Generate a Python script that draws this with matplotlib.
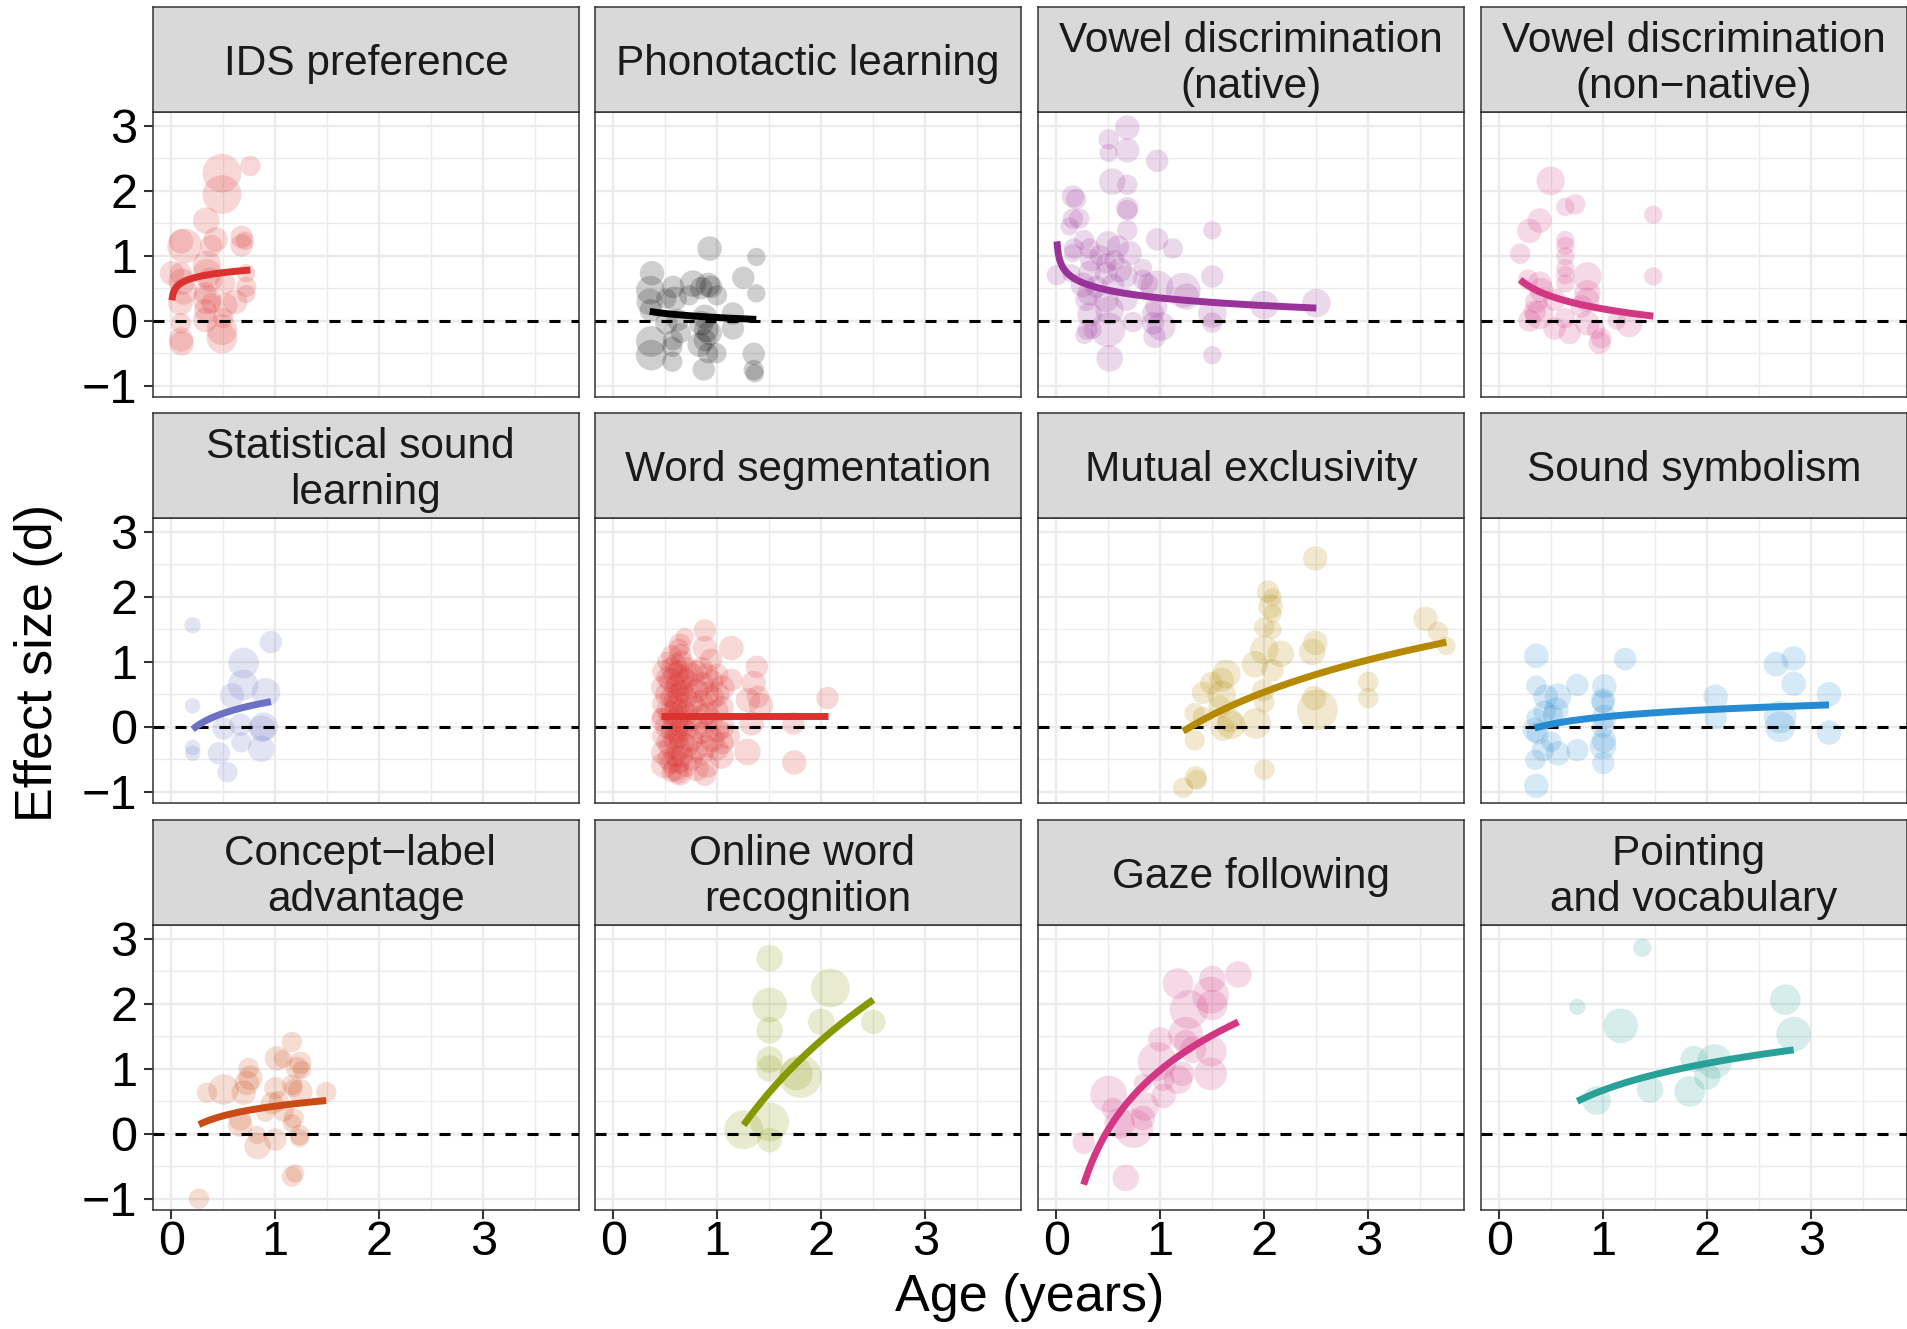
import numpy as np
import matplotlib.pyplot as plt

plt.rcParams['font.family'] = ['Liberation Sans', 'DejaVu Sans']

# panel titles, colours and log fits (d = a + b * log(age))
titles = ["IDS preference", "Phonotactic learning", "Vowel discrimination\n(native)",
          "Vowel discrimination\n(non\u2212native)", "Statistical sound \nlearning",
          "Word segmentation", "Mutual exclusivity", "Sound symbolism",
          "Concept\u2212label \nadvantage", "Online word \nrecognition", "Gaze following",
          "Pointing \nand vocabulary"]
colors = ["#dc322f", "#000000", "#993399", "#d33682", "#6c71c4", "#dc322f",
          "#b58900", "#268bd2", "#cb4b16", "#859900", "#d33682", "#2aa198"]
fit_a = [0.806, 0.0485, 0.35, 0.18, 0.397, 0.17, -0.313, 0.15, 0.424, -0.496, 0.98, 0.67]
fit_b = [0.0963, -0.0897, -0.17, -0.28, 0.276, 0.0, 1.22, 0.16, 0.215, 2.79, 1.32, 0.595]

# (age in years, effect size d, weight)
ids = [(0.487, 2.27, 95), (0.487, 1.94, 95), (0.76, 2.38, 50), (0.337, 1.54, 65), (0.426, 1.25, 60),
       (0.385, 1.15, 55), (0.096, 1.22, 60), (0.128, 1.15, 85), (0.676, 1.29, 55), (0.676, 1.16, 55),
       (0.708, 1.23, 45), (0.006, 0.73, 60), (0.093, 0.73, 55), (0.10, 0.60, 65), (0.343, 0.86, 70),
       (0.343, 0.73, 70), (0.375, 0.63, 60), (0.519, 0.57, 50), (0.72, 0.73, 45), (0.72, 0.52, 50),
       (0.72, 0.41, 45), (0.12, 0.45, 65), (0.087, 0.27, 60), (0.327, 0.42, 55), (0.343, 0.32, 70),
       (0.385, 0.27, 50), (0.519, 0.24, 60), (0.615, 0.29, 60), (0.327, 0.16, 55), (0.327, 0.01, 60),
       (0.093, -0.04, 50), (0.093, -0.29, 60), (0.10, -0.35, 60), (0.487, -0.14, 75), (0.487, -0.27, 75),
       (0.50, 0.04, 50)]
phon = [(0.926, 1.11, 60), (1.375, 0.98, 45), (0.372, 0.73, 60), (1.25, 0.66, 55), (0.356, 0.47, 70),
        (0.574, 0.52, 55), (0.766, 0.57, 65), (0.846, 0.50, 55), (0.91, 0.55, 60), (0.94, 0.52, 55),
        (0.997, 0.39, 50), (0.59, 0.34, 60), (0.51, 0.34, 50), (0.73, 0.39, 50), (1.375, 0.42, 45),
        (0.35, 0.29, 65), (0.36, 0.16, 55), (1.15, 0.11, 55), (1.15, -0.12, 55), (0.51, -0.04, 55),
        (0.62, 0.01, 55), (0.65, -0.19, 50), (0.846, -0.04, 60), (0.894, -0.14, 60), (0.926, -0.19, 60),
        (0.88, -0.30, 55), (0.83, -0.37, 60), (0.99, -0.50, 50), (0.365, -0.32, 75), (0.365, -0.53, 75),
        (0.574, -0.30, 50), (0.567, -0.40, 50), (0.567, -0.63, 50), (0.87, -0.75, 55), (0.91, -0.50, 50),
        (1.35, -0.51, 55), (1.35, -0.76, 50), (1.36, -0.81, 45), (0.88, 0.06, 60)]
vowel_nat = [(0.683, 2.97, 60), (0.503, 2.79, 50), (0.503, 2.58, 45), (0.683, 2.62, 60), (0.97, 2.46, 55),
             (0.538, 2.14, 65), (0.683, 2.09, 50), (0.16, 1.91, 55), (0.19, 1.87, 50), (0.683, 1.73, 55),
             (0.683, 1.70, 50), (0.16, 1.57, 50), (0.22, 1.57, 50), (0.128, 1.45, 45), (0.683, 1.39, 50),
             (1.5, 1.39, 45), (0.97, 1.25, 55), (1.12, 1.11, 50), (0.266, 1.24, 50), (0.17, 1.11, 50),
             (0.16, 1.04, 45), (0.32, 1.11, 50), (0.497, 1.19, 60), (0.593, 1.14, 55), (0.705, 1.04, 60),
             (0.417, 1.01, 50), (0.48, 0.88, 50), (0.337, 0.93, 55), (0.56, 0.93, 50), (0.006, 0.70, 50),
             (0.144, 0.73, 45), (0.32, 0.75, 55), (0.48, 0.73, 55), (0.61, 0.78, 60), (0.673, 0.68, 55),
             (0.833, 0.81, 45), (0.833, 0.63, 50), (1.5, 0.68, 55), (0.256, 0.55, 60), (0.385, 0.52, 55),
             (0.545, 0.55, 55), (0.88, 0.57, 50), (0.97, 0.52, 80), (1.22, 0.47, 85), (1.25, 0.37, 65),
             (0.32, 0.42, 60), (0.29, 0.32, 55), (0.48, 0.32, 60), (0.673, 0.32, 55), (2.0, 0.24, 70),
             (2.5, 0.27, 70), (1.5, 0.11, 70), (0.513, 0.16, 70), (0.32, 0.09, 60), (0.93, 0.11, 55),
             (0.96, 0.22, 55), (0.737, -0.02, 50), (0.93, -0.04, 55), (1.01, -0.09, 70), (1.5, -0.03, 50),
             (0.30, -0.14, 50), (0.35, -0.14, 45), (0.27, -0.22, 45), (0.497, -0.14, 85), (0.946, -0.25, 55),
             (0.513, -0.58, 65), (1.5, -0.53, 45)]
vowel_non = [(0.494, 2.15, 70), (0.635, 1.75, 45), (0.73, 1.79, 50), (0.388, 1.54, 60), (0.29, 1.38, 60),
             (1.48, 1.63, 45), (0.20, 1.03, 50), (0.635, 1.24, 45), (0.635, 1.15, 45), (0.635, 0.99, 45),
             (0.635, 0.81, 45), (0.635, 0.70, 45), (0.635, 0.57, 45), (1.48, 0.68, 45), (0.846, 0.68, 70),
             (0.276, 0.63, 50), (0.388, 0.57, 60), (0.404, 0.47, 60), (0.846, 0.42, 65), (0.846, 0.32, 60),
             (0.356, 0.29, 55), (0.53, 0.32, 55), (0.79, 0.22, 55), (0.34, 0.14, 55), (0.388, 0.09, 70),
             (0.29, 0.0, 55), (0.63, 0.04, 50), (0.53, -0.12, 55), (0.676, -0.19, 55), (0.846, -0.04, 60),
             (0.93, -0.14, 45), (0.98, -0.27, 50), (0.965, -0.34, 55), (1.13, 0.0, 45), (1.25, -0.05, 65)]
stat_sound = [(0.205, 1.56, 40), (0.958, 1.30, 55), (0.695, 0.98, 75), (0.689, 0.64, 75), (0.91, 0.53, 70),
              (0.583, 0.48, 60), (0.205, 0.32, 38), (0.663, 0.03, 55), (0.503, -0.03, 55), (0.872, -0.03, 65),
              (0.888, 0.0, 70), (0.673, -0.24, 50), (0.205, -0.32, 38), (0.205, -0.41, 38), (0.458, -0.41, 55),
              (0.865, -0.34, 65), (0.54, -0.70, 50)]
word_seg = [(0.88, 1.48, 55), (0.686, 1.38, 45), (0.64, 1.26, 55), (0.88, 1.21, 60), (1.135, 1.21, 60),
            (0.644, 1.10, 55), (0.94, 1.03, 55), (1.38, 0.92, 55), (1.35, 0.67, 60), (1.39, 0.46, 55),
            (1.42, 0.33, 60), (1.295, 0.41, 60), (2.06, 0.44, 55), (1.73, 0.05, 55), (1.74, -0.55, 60),
            (1.29, -0.39, 65), (1.33, 0.05, 60), (1.135, 0.72, 55), (1.10, -0.15, 60), (1.04, -0.46, 60),
            (0.88, -0.74, 55), (0.64, -0.72, 60), (0.49, -0.59, 65), (0.46, 0.15, 45),
            (0.48, 0.85, 55), (0.48, 0.60, 60), (0.48, 0.35, 55), (0.48, 0.10, 60), (0.48, -0.15, 55),
            (0.48, -0.40, 60), (0.52, 1.00, 50), (0.52, 0.75, 55), (0.52, 0.50, 60), (0.52, 0.25, 55),
            (0.52, 0.00, 60), (0.52, -0.25, 55), (0.52, -0.50, 50), (0.56, 1.10, 50), (0.56, 0.90, 55),
            (0.56, 0.70, 60), (0.56, 0.45, 55), (0.56, 0.20, 60), (0.56, -0.05, 55), (0.56, -0.30, 60),
            (0.56, -0.55, 55), (0.56, -0.70, 50), (0.60, 0.95, 55), (0.60, 0.80, 60), (0.60, 0.60, 55),
            (0.60, 0.40, 60), (0.60, 0.30, 55), (0.60, 0.10, 60), (0.60, -0.10, 55), (0.60, -0.20, 60),
            (0.60, -0.45, 55), (0.60, -0.65, 60), (0.63, 1.20, 50), (0.63, 0.85, 55), (0.63, 0.65, 60),
            (0.63, 0.50, 55), (0.63, 0.35, 60), (0.63, 0.15, 55), (0.63, 0.05, 60), (0.63, -0.15, 55),
            (0.63, -0.35, 60), (0.63, -0.55, 55), (0.63, -0.72, 50), (0.66, 1.00, 55), (0.66, 0.75, 60),
            (0.66, 0.55, 55), (0.66, 0.25, 60), (0.66, 0.00, 55), (0.66, -0.25, 60), (0.66, -0.45, 55),
            (0.70, 0.90, 55), (0.70, 0.70, 60), (0.70, 0.45, 55), (0.70, 0.20, 60), (0.70, -0.05, 55),
            (0.70, -0.30, 60), (0.70, -0.60, 55), (0.75, 0.80, 60), (0.75, 0.60, 55), (0.75, 0.35, 60),
            (0.75, 0.10, 55), (0.75, -0.20, 60), (0.75, -0.50, 55), (0.80, 0.85, 55), (0.80, 0.55, 60),
            (0.80, 0.30, 55), (0.80, 0.00, 60), (0.80, -0.35, 55), (0.80, -0.65, 60), (0.85, 0.90, 55),
            (0.85, 0.65, 60), (0.85, 0.40, 55), (0.85, 0.15, 60), (0.85, -0.10, 55), (0.85, -0.40, 60),
            (0.90, 0.80, 55), (0.90, 0.50, 60), (0.90, 0.20, 55), (0.90, -0.05, 60), (0.90, -0.30, 55),
            (0.90, -0.60, 60), (0.95, 0.70, 55), (0.95, 0.45, 60), (0.95, 0.10, 55), (0.95, -0.20, 60),
            (1.00, 0.80, 55), (1.00, 0.50, 60), (1.00, 0.25, 55), (1.00, -0.05, 60), (1.00, -0.35, 55),
            (1.05, 0.60, 60), (1.05, 0.30, 55), (1.05, 0.00, 60), (1.05, -0.25, 55)]
mutual_ex = [(2.49, 2.59, 60), (2.035, 2.08, 55), (2.08, 1.99, 45), (2.06, 1.85, 60), (2.08, 1.74, 45),
             (2.0, 1.53, 50), (2.08, 1.49, 45), (3.55, 1.66, 60), (3.67, 1.46, 50), (3.75, 1.24, 45),
             (2.49, 1.29, 60), (2.46, 1.15, 65), (2.0, 1.18, 70), (2.16, 1.12, 65), (1.91, 0.96, 65),
             (2.08, 0.87, 55), (1.635, 0.81, 70), (1.59, 0.72, 60), (1.49, 0.67, 55), (1.41, 0.52, 55),
             (1.59, 0.49, 70), (1.99, 0.56, 55), (3.0, 0.69, 50), (3.0, 0.44, 50), (2.48, 0.44, 60),
             (2.51, 0.26, 100), (2.0, 0.37, 50), (1.57, 0.31, 55), (1.33, 0.21, 50), (1.41, 0.15, 50),
             (1.67, 0.10, 60), (1.68, 0.03, 70), (1.60, -0.03, 60), (1.92, 0.05, 75), (1.33, -0.21, 50),
             (2.0, -0.66, 50), (1.34, -0.78, 55), (1.35, -0.82, 50), (1.22, -0.94, 50)]
sound_sym = [(0.356, 1.09, 60), (1.21, 1.04, 55), (2.66, 0.96, 60), (2.83, 1.05, 60), (2.83, 0.66, 60),
             (0.356, 0.63, 50), (0.75, 0.64, 55), (1.01, 0.62, 60), (0.446, 0.46, 60), (0.564, 0.46, 65),
             (0.997, 0.40, 60), (0.997, 0.38, 55), (2.08, 0.46, 60), (3.17, 0.50, 60), (0.436, 0.23, 55),
             (0.548, 0.26, 60), (0.516, 0.18, 50), (0.356, 0.13, 50), (1.01, 0.15, 60), (2.08, 0.13, 55),
             (2.7, 0.15, 80), (2.7, 0.0, 75), (0.34, -0.05, 60), (0.37, -0.10, 55), (0.997, 0.0, 55),
             (0.5, -0.23, 50), (1.006, -0.21, 60), (0.997, -0.30, 65), (0.42, -0.36, 55), (0.564, -0.41, 60),
             (0.75, -0.36, 55), (0.346, -0.51, 50), (1.0, -0.56, 55), (0.356, -0.91, 60), (3.17, -0.09, 60)]
concept = [(1.16, 1.41, 50), (1.016, 1.16, 60), (1.074, 1.15, 45), (1.24, 1.09, 55), (1.21, 1.01, 55),
           (1.256, 0.98, 45), (0.744, 1.01, 50), (0.76, 0.86, 60), (0.727, 0.78, 60), (0.343, 0.63, 50),
           (0.503, 0.68, 75), (0.696, 0.63, 60), (1.0, 0.70, 55), (1.16, 0.75, 50), (1.176, 0.70, 45),
           (1.24, 0.65, 60), (1.49, 0.64, 50), (0.968, 0.47, 55), (1.032, 0.50, 50), (0.904, 0.32, 45),
           (1.08, 0.34, 50), (1.176, 0.24, 50), (1.16, 0.16, 45), (0.663, 0.14, 60), (0.663, 0.22, 55),
           (0.824, -0.02, 45), (1.0, -0.09, 55), (1.234, -0.02, 50), (1.234, -0.07, 45), (0.83, -0.19, 65),
           (1.16, -0.66, 50), (1.19, -0.61, 45), (0.266, -1.0, 50)]
online = [(1.503, 2.70, 65), (1.503, 1.98, 85), (1.503, 1.59, 65), (1.503, 1.14, 65), (1.503, 1.0, 65),
          (2.087, 2.24, 95), (2.0, 1.72, 65), (2.50, 1.72, 60), (1.80, 0.88, 105), (1.76, 0.92, 80),
          (1.503, 0.18, 95), (1.253, 0.06, 95), (1.503, -0.10, 60)]
gaze = [(1.75, 2.45, 65), (1.5, 2.38, 65), (1.17, 2.31, 75), (1.484, 2.13, 90), (1.5, 1.98, 75),
        (1.276, 1.91, 95), (1.244, 1.53, 85), (1.0, 1.45, 60), (1.244, 1.41, 60), (1.314, 1.29, 65),
        (1.49, 1.27, 75), (0.97, 1.11, 95), (1.484, 0.92, 80), (1.21, 0.92, 60), (1.17, 0.83, 70),
        (1.026, 0.83, 55), (0.833, 0.78, 45), (0.503, 0.61, 90), (1.03, 0.58, 60), (0.545, 0.38, 55),
        (0.85, 0.42, 70), (0.833, 0.24, 60), (0.61, 0.16, 75), (0.744, 0.08, 95), (0.263, -0.14, 55),
        (0.667, -0.68, 65)]
pointing = [(1.375, 2.86, 45), (0.75, 1.95, 40), (1.167, 1.66, 85), (2.75, 2.06, 75), (2.83, 1.53, 85),
            (1.87, 1.15, 65), (2.07, 1.11, 85), (2.0, 0.88, 65), (1.83, 0.65, 75), (1.45, 0.68, 65),
            (0.936, 0.51, 70)]

panels = [ids, phon, vowel_nat, vowel_non, stat_sound, word_seg,
          mutual_ex, sound_sym, concept, online, gaze, pointing]

W, H = 1908, 1329
col_left = [153, 595, 1038, 1481]
row_top = [112, 518, 925]
pw, ph, sh = 426, 285, 105

fig = plt.figure(figsize=(W / 100, H / 100), dpi=100)

for i, pts in enumerate(panels):
    r, c = divmod(i, 4)
    ax = fig.add_axes([col_left[c] / W, 1 - (row_top[r] + ph) / H, pw / W, ph / H])
    st = fig.add_axes([col_left[c] / W, 1 - row_top[r] / H, pw / W, sh / H])

    pts = np.array(pts)
    age, d, w = pts[:, 0], pts[:, 1], pts[:, 2]

    ax.scatter(age, d, s=(w / 3.4) ** 2, color=colors[i], alpha=0.19,
               linewidths=0, zorder=2)
    ax.axhline(0, color='black', lw=2.2, dashes=(3.6, 3.6), zorder=3)
    xs = np.linspace(age.min(), age.max(), 200)
    ax.plot(xs, fit_a[i] + fit_b[i] * np.log(xs), color=colors[i], lw=5.0,
            solid_capstyle='butt', zorder=4)

    ax.set_xlim(-0.176, 3.92)
    ax.set_ylim(-1.174, 3.21)
    ax.set_xticks([0, 1, 2, 3])
    ax.set_xticks([0.5, 1.5, 2.5, 3.5], minor=True)
    ax.set_yticks([-1, 0, 1, 2, 3])
    ax.set_yticks([-0.5, 0.5, 1.5, 2.5], minor=True)
    ax.grid(which='major', color='#EBEBEB', lw=1.7)
    ax.grid(which='minor', color='#EBEBEB', lw=1.0)
    ax.set_axisbelow(True)
    ax.tick_params(which='minor', length=0)
    ax.tick_params(which='major', direction='out', length=6.3, width=1.5,
                   color='#333333', labelsize=35, labelcolor='black')
    ax.tick_params(axis='y', pad=5)
    ax.tick_params(axis='x', pad=1)
    if c > 0:
        ax.tick_params(axis='y', left=False, labelleft=False)
    if r < 2:
        ax.tick_params(axis='x', bottom=False, labelbottom=False)
    for sp in ax.spines.values():
        sp.set_color('#333333')
        sp.set_linewidth(1.1)

    st.set_facecolor('#D9D9D9')
    st.set_xticks([])
    st.set_yticks([])
    for sp in st.spines.values():
        sp.set_color('#333333')
        sp.set_linewidth(1.1)
    st.text(0.5, 0.46, titles[i], ha='center', va='center', fontsize=30.5,
            color='#1A1A1A', linespacing=1.2, transform=st.transAxes)

fig.text(39 / W, 1 - 663 / H, "Effect size (d)", rotation=90, ha='center',
         va='center', fontsize=37.5)
fig.text(1030 / W, 1 - 1298 / H, "Age (years)", ha='center', va='center', fontsize=37.5)

fig.savefig("out.png", dpi=100)
